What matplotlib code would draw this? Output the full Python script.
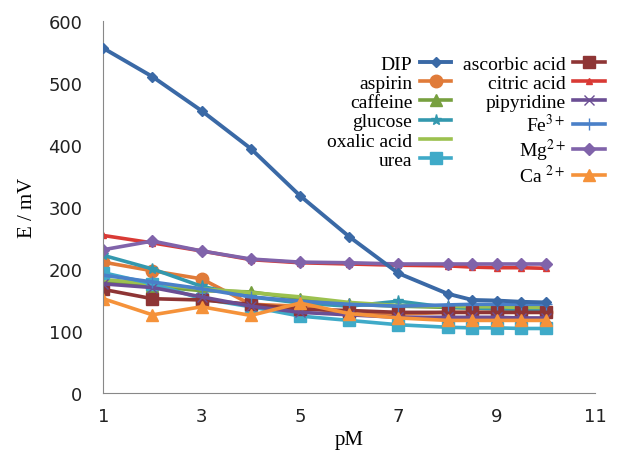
import matplotlib
matplotlib.use("Agg")
import matplotlib.pyplot as plt

plt.rcParams['mathtext.fontset'] = 'stix'

# pM values (x axis)
pm = [1, 2, 3, 4, 5, 6, 7, 8, 8.5, 9, 9.5, 10]

# potentials in mV, one list per sensor
dip = [556, 510, 455, 394, 318, 252, 193, 160, 150, 149, 147, 146]
aspirin = [211, 197, 184, 143, 140, 127, 127, 130, 130, 130, 130, 130]
caffeine = [181, 172, 165, 163, 152, 143, 140, 138, 137, 136, 135, 135]
glucose = [222, 200, 172, 155, 145, 140, 148, 138, 137, 136, 135, 135]
oxalic = [183, 176, 168, 162, 155, 146, 141, 140, 139, 139, 138, 138]
urea = [194, 176, 152, 139, 124, 117, 110, 106, 105, 105, 104, 104]
ascorbic = [167, 152, 150, 143, 135, 133, 130, 130, 130, 130, 130, 130]
citric = [254, 242, 229, 215, 210, 208, 206, 205, 203, 202, 202, 201]
pipyridine = [176, 170, 155, 140, 130, 126, 122, 122, 122, 122, 121, 121]
fe = [190, 179, 168, 155, 148, 143, 140, 142, 143, 143, 143, 143]
mg = [231, 245, 229, 216, 211, 210, 208, 208, 208, 208, 208, 208]
ca = [152, 126, 139, 125, 145, 128, 121, 117, 117, 117, 117, 117]

fig = plt.figure(figsize=(6.22, 4.56), dpi=100)
ax = fig.add_axes([0.166, 0.136, 0.791, 0.816])

lw = 2.6
col1 = []
col2 = []
col1.append(ax.plot(pm, dip, color='#3A69A6', marker='D', ms=5, lw=2.8, zorder=5, label='DIP')[0])
col1.append(ax.plot(pm, aspirin, color='#E07B39', marker='o', ms=9, lw=lw, label='aspirin')[0])
col1.append(ax.plot(pm, caffeine, color='#77A03F', marker='^', ms=8, lw=lw, label='caffeine')[0])
col1.append(ax.plot(pm, glucose, color='#3398AE', marker='*', ms=8, lw=lw, label='glucose')[0])
col1.append(ax.plot(pm, oxalic, color='#9CC14F', marker='_', ms=6, lw=lw, label='oxalic acid')[0])
col1.append(ax.plot(pm, urea, color='#3FAAC8', marker='s', ms=8, lw=lw, label='urea')[0])
col2.append(ax.plot(pm, ascorbic, color='#8E3535', marker='s', ms=8, lw=lw, label='ascorbic acid')[0])
col2.append(ax.plot(pm, citric, color='#D93A35', marker='^', ms=5, lw=lw, label='citric acid')[0])
col2.append(ax.plot(pm, pipyridine, color='#6B4E94', marker='x', ms=7, lw=lw, label='pipyridine')[0])
col2.append(ax.plot(pm, fe, color='#4A80C8', marker='+', ms=9, lw=lw, label='Fe$^{3+}$')[0])
col2.append(ax.plot(pm, mg, color='#8063AA', marker='D', ms=6, lw=lw, label='Mg$^{2+}$')[0])
col2.append(ax.plot(pm, ca, color='#F5923A', marker='^', ms=8, lw=lw, label='Ca $^{2+}$')[0])

ax.set_xlim(1, 11)
ax.set_ylim(0, 600)
ax.set_xticks([1, 3, 5, 7, 9, 11])
ax.set_yticks([0, 100, 200, 300, 400, 500, 600])
ax.tick_params(length=0, labelsize=13, colors='#222222')
ax.tick_params(axis='y', pad=15)
ax.tick_params(axis='x', pad=10)
for s in ['top', 'right']:
    ax.spines[s].set_visible(False)
for s in ['left', 'bottom']:
    ax.spines[s].set_color('#888888')

ax.set_xlabel('pM', family='Liberation Serif', fontsize=15)
ax.set_ylabel('E / mV', family='Liberation Serif', fontsize=15, labelpad=8)

leg = ax.legend(handles=col1 + col2, ncol=2, markerfirst=False, frameon=False,
                prop={'family': 'Liberation Serif', 'size': 14},
                loc='upper right', bbox_to_anchor=(1.0, 0.915),
                bbox_transform=fig.transFigure,
                handlelength=1.6, labelspacing=0.08, columnspacing=0.6,
                handletextpad=0.4)

fig.savefig('out.png', dpi=100)
